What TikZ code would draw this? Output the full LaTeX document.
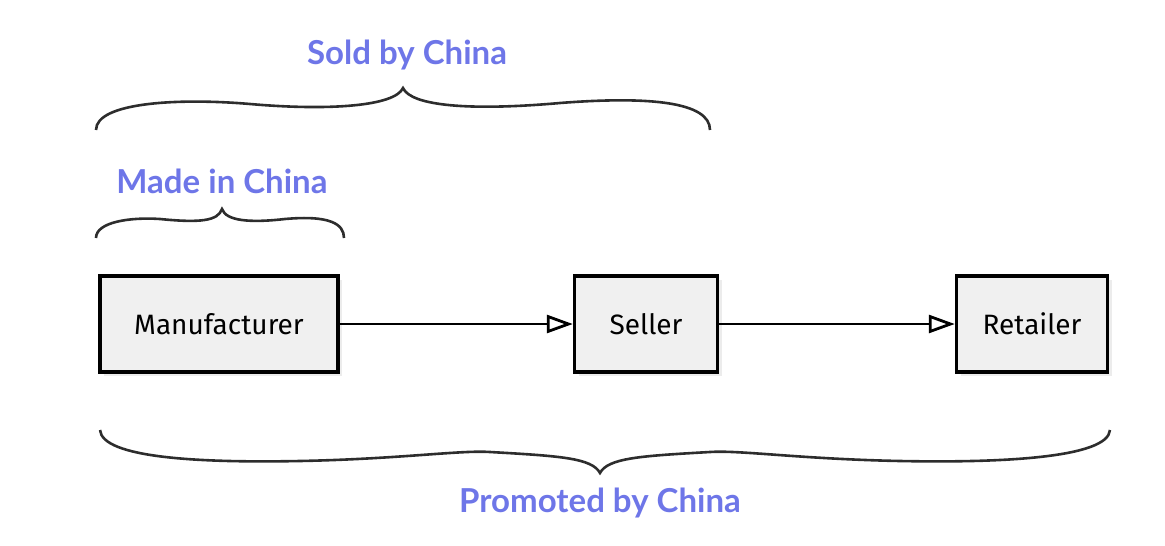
\documentclass[tikz,border=0pt]{standalone}
\usepackage{fontspec}
\usepackage{tikz}
\usetikzlibrary{arrows.meta, shadows}
\newfontfamily\labelfont{Lato}
\newfontfamily\boxfont{Fira Sans}
\definecolor{chinablue}{RGB}{110,118,232}
\definecolor{bracegray}{RGB}{45,45,45}

\begin{document}
\begin{tikzpicture}[
            x=1pt, y=-1pt,
            box/.style={draw, line width=3.4pt, fill=black!6, drop shadow={opacity=0.15, shadow xshift=4pt, shadow yshift=-4pt}, minimum height=96pt, font=\boxfont\fontsize{28}{34}\selectfont}, % the three parties
            flow/.style={line width=2.8pt, -{Triangle[open, length=26pt, width=18pt]}}, % arrows between parties
            brace/.style={draw=bracegray, line width=2.6pt}, % curly braces
            tag/.style={text=chinablue, font=\labelfont\bfseries\fontsize{33}{40}\selectfont} % brace labels
            ]
        \useasboundingbox (0,0) rectangle (1165,546);

                % The chain
                \node[box, minimum width=238pt] (manufacturer) at (219,324) {Manufacturer};
                \node[box, minimum width=143pt] (seller) at (646,324) {Seller};
                \node[box, minimum width=151pt] (retailer) at (1032,324) {Retailer};

                \draw[flow] (manufacturer) -- (seller);
                \draw[flow] (seller) -- (retailer);

                % Sold by China
                \draw[brace] (96,130) .. controls (96,102) and (180,98) .. (250,104)
                    .. controls (330,111) and (395,106) .. (403,88)
                    .. controls (411,106) and (470,111) .. (560,103)
                    .. controls (650,96) and (710,102) .. (710,130);
                \node[tag] (sold) at (407,55) {Sold by China};

                % Made in China
                \draw[brace] (96,238) .. controls (96,222) and (130,217) .. (160,219)
                    .. controls (200,223) and (218,221) .. (222,209)
                    .. controls (226,221) and (250,223) .. (285,219)
                    .. controls (330,215) and (344,224) .. (344,238);
                \node[tag] (made) at (222,181) {Made in China};

                % Promoted by China
                \draw[brace] (100,430) .. controls (102,458) and (200,463) .. (300,461)
                    .. controls (400,459) and (460,450) .. (490,452)
                    .. controls (560,456) and (592,458) .. (600,473)
                    .. controls (608,458) and (640,456) .. (710,452)
                    .. controls (740,450) and (800,459) .. (900,461)
                    .. controls (1000,463) and (1108,458) .. (1110,430);
                \node[tag] (promoted) at (600,503) {Promoted by China};

            \end{tikzpicture}
\end{document}
